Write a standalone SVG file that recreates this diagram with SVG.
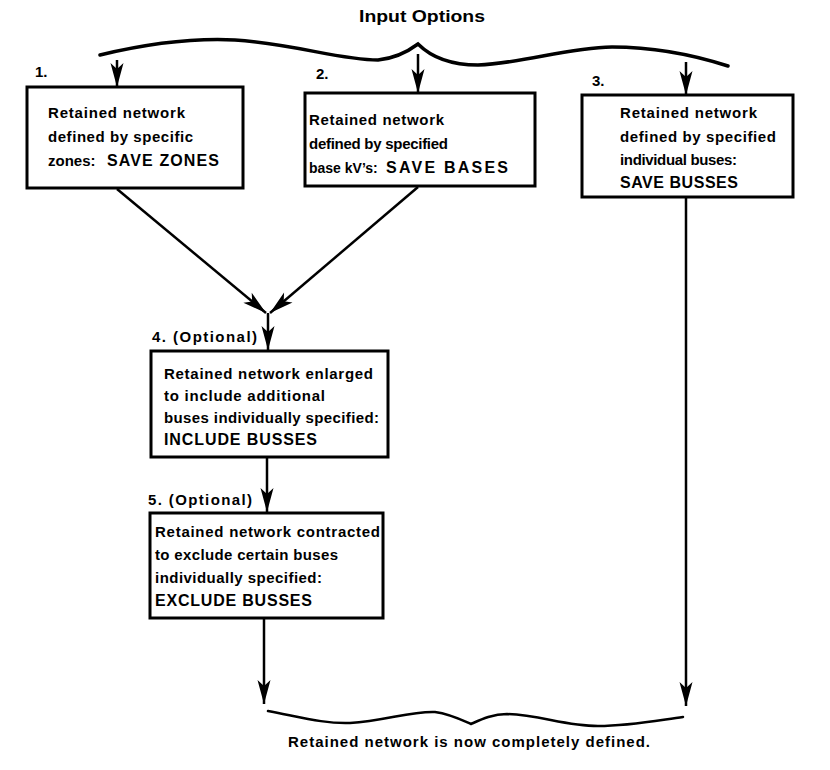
<svg xmlns="http://www.w3.org/2000/svg" width="830" height="770" viewBox="0 0 830 770">
<defs>
<style>
.box{fill:#fff;stroke:#000;stroke-width:3}
.t{font-family:"Liberation Sans",Arial,sans-serif;font-weight:bold;font-size:15px;fill:#000}
.c{font-size:16px}
.ln{fill:none;stroke:#000;stroke-width:2.5}
.brace{fill:none;stroke:#000;stroke-linecap:round}
</style>
<marker id="ah" viewBox="-25 -7 27 14" refX="0" refY="0" markerWidth="27" markerHeight="14" markerUnits="userSpaceOnUse" orient="auto">
<path d="M0,0 L-24,-6.5 L-18,0 L-24,6.5 Z" fill="#000"/>
</marker>
</defs>
<rect width="830" height="770" fill="#fff"/>

<g id="top-brace">
<text class="t c" x="359" y="22" textLength="126" lengthAdjust="spacingAndGlyphs">Input Options</text>
<path class="brace" stroke-width="3.5" d="M100,55 C150,43 195,38 235,40 C295,44 340,60 378,60 C398,58 410,50 418,44 C428,54 445,65 478,65 C525,63 565,48 612,47 C660,47 700,57 728,66"/>
</g>

<g id="connectors">
<line class="ln" x1="117" y1="60" x2="117" y2="87" marker-end="url(#ah)"/>
<line class="ln" x1="418" y1="54" x2="418" y2="93" marker-end="url(#ah)"/>
<line class="ln" x1="686" y1="62" x2="686" y2="95" marker-end="url(#ah)"/>
<line class="ln" x1="117" y1="189" x2="266" y2="313" marker-end="url(#ah)"/>
<line class="ln" x1="418" y1="187" x2="270" y2="313" marker-end="url(#ah)"/>
<line class="ln" x1="268" y1="313" x2="268" y2="350" marker-end="url(#ah)"/>
<line class="ln" x1="267" y1="457" x2="267" y2="512" marker-end="url(#ah)"/>
<line class="ln" x1="264" y1="618" x2="264" y2="704" marker-end="url(#ah)"/>
<line class="ln" x1="686" y1="197" x2="686" y2="706" marker-end="url(#ah)"/>
</g>

<g id="node1">
<text class="t" x="35" y="77">1.</text>
<rect class="box" x="27" y="87" width="216" height="101"/>
<text class="t" x="48" y="118" textLength="137">Retained network</text>
<text class="t" x="48" y="142" textLength="145">defined by specific</text>
<text class="t" x="48" y="166">zones:</text>
<text class="t c" x="107" y="166" textLength="112">SAVE ZONES</text>
</g>

<g id="node2">
<text class="t" x="316" y="79">2.</text>
<rect class="box" x="305" y="93" width="230" height="93"/>
<text class="t" x="309" y="125" textLength="135">Retained network</text>
<text class="t" x="309" y="149" textLength="139">defined by specified</text>
<text class="t" x="309" y="173" style="font-size:14px">base kV’s:</text>
<text class="t c" x="386" y="173" textLength="122">SAVE BASES</text>
</g>

<g id="node3">
<text class="t" x="592" y="86">3.</text>
<rect class="box" x="582" y="95" width="211" height="102"/>
<text class="t" x="620" y="118" textLength="137">Retained network</text>
<text class="t" x="620" y="142" textLength="156">defined by specified</text>
<text class="t" x="620" y="165" textLength="117">individual buses:</text>
<text class="t c" x="620" y="188" textLength="118">SAVE BUSSES</text>
</g>

<g id="node4">
<text class="t" x="152" y="342" textLength="105">4.  (Optional)</text>
<rect class="box" x="151" y="351" width="237" height="106"/>
<text class="t" x="164" y="379" textLength="209">Retained network enlarged</text>
<text class="t" x="164" y="401" textLength="161">to include additional</text>
<text class="t" x="164" y="423" textLength="215">buses individually specified:</text>
<text class="t c" x="164" y="445" textLength="153">INCLUDE BUSSES</text>
</g>

<g id="node5">
<text class="t" x="148" y="505" textLength="104">5.  (Optional)</text>
<rect class="box" x="150" y="513" width="233" height="105"/>
<text class="t" x="155" y="537" textLength="225">Retained network contracted</text>
<text class="t" x="155" y="560" textLength="183">to exclude certain buses</text>
<text class="t" x="155" y="583" textLength="167">individually specified:</text>
<text class="t c" x="155" y="606" textLength="157">EXCLUDE BUSSES</text>
</g>

<g id="bottom-brace">
<path class="brace" stroke-width="2.5" d="M268,711 C300,717 325,724 350,723 C385,721 410,711 435,712 C450,714 462,720 471,724 C480,720 492,714 507,714 C540,715 565,726 598,726 C630,726 660,720 683,717"/>
<text class="t" x="288" y="747" textLength="362">Retained network is now completely defined.</text>
</g>
</svg>
